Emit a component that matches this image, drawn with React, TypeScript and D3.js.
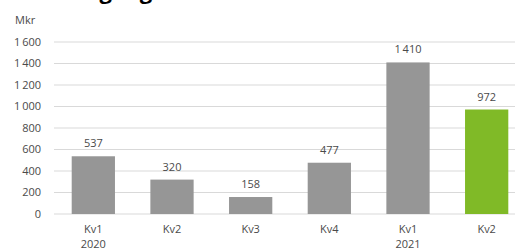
import React, { useEffect, useRef } from 'react';
import * as d3 from 'd3';

const quarters = ['Kv1', 'Kv2', 'Kv3', 'Kv4', 'Kv1', 'Kv2'];
const years = ['2020', '', '', '', '2021', ''];
const values = [537, 320, 158, 477, 1410, 972];
const barColors = ['#969696', '#969696', '#969696', '#969696', '#969696', '#80ba27'];
const yTicks = [0, 200, 400, 600, 800, 1000, 1200, 1400, 1600];

const fmt = (v: number) => d3.format(',')(v).replace(/,/g, '\u2009');

const App = () => {
  const ref = useRef<SVGSVGElement>(null);

  useEffect(() => {
    if (!ref.current) return;
    const svg = d3.select(ref.current);
    svg.selectAll('*').remove();

    const font = "'Open Sans', 'Noto Sans', sans-serif";
    const left = 54;
    const textColor = '#4a4a4a';

    const x = d3.scaleBand<number>()
      .domain(d3.range(values.length))
      .range([left, 526])
      .paddingInner(0.45)
      .paddingOuter(0.225);

    const y = d3.scaleLinear().domain([0, 1600]).range([214, 42]);

    // title, mostly cut off above the frame (as in the reference)
    svg.append('text')
      .attr('x', 14).attr('y', -1.5)
      .attr('font-family', font).attr('font-weight', 'bold')
      .attr('font-size', 22).attr('fill', '#000')
      .text('Orderingång');

    svg.append('text')
      .attr('x', 15).attr('y', 24)
      .attr('font-family', font).attr('font-size', 11).attr('fill', textColor)
      .text('Mkr');

    // gridlines
    svg.append('g').selectAll('line')
      .data(yTicks).enter().append('line')
      .attr('x1', left).attr('x2', 515)
      .attr('y1', d => y(d)).attr('y2', d => y(d))
      .attr('stroke', '#d9d9d9').attr('stroke-width', 1);

    svg.append('g').selectAll('text')
      .data(yTicks).enter().append('text')
      .attr('x', 41).attr('y', d => y(d)).attr('dy', '0.35em')
      .attr('text-anchor', 'end')
      .attr('font-family', font).attr('font-size', 11).attr('fill', textColor)
      .text(d => fmt(d));

    // bars
    svg.append('g').selectAll('rect')
      .data(values).enter().append('rect')
      .attr('x', (_, i) => x(i)!)
      .attr('width', x.bandwidth())
      .attr('y', d => y(d))
      .attr('height', d => y(0) - y(d))
      .attr('fill', (_, i) => barColors[i]);

    // value labels
    svg.append('g').selectAll('text')
      .data(values).enter().append('text')
      .attr('x', (_, i) => x(i)! + x.bandwidth() / 2)
      .attr('y', d => y(d) - 9)
      .attr('text-anchor', 'middle')
      .attr('font-family', font).attr('font-size', 11).attr('fill', textColor)
      .text(d => fmt(d));

    // category labels
    const xl = svg.append('g');
    xl.selectAll('text.q')
      .data(quarters).enter().append('text')
      .attr('class', 'q')
      .attr('x', (_, i) => x(i)! + x.bandwidth() / 2)
      .attr('y', 233)
      .attr('text-anchor', 'middle')
      .attr('font-family', font).attr('font-size', 11).attr('fill', textColor)
      .text(d => d);
    xl.selectAll('text.yr')
      .data(years).enter().append('text')
      .attr('class', 'yr')
      .attr('x', (_, i) => x(i)! + x.bandwidth() / 2)
      .attr('y', 248)
      .attr('text-anchor', 'middle')
      .attr('font-family', font).attr('font-size', 11).attr('fill', textColor)
      .text(d => d);
  }, []);

  return (
    <svg
      ref={ref}
      width={515}
      height={251}
      style={{ position: 'fixed', left: 0, top: 0, background: '#fff' }}
    />
  );
};

export default App;
